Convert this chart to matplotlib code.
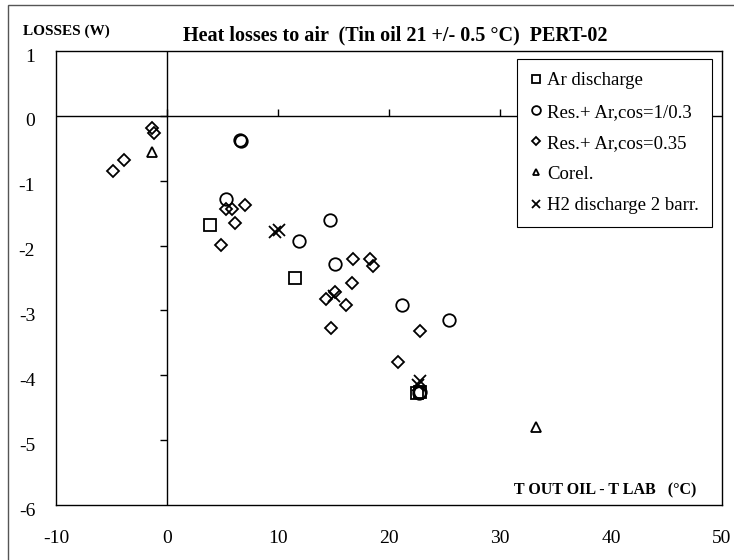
import matplotlib
matplotlib.use('Agg')
import matplotlib.pyplot as plt
from matplotlib.patches import Rectangle
from matplotlib.transforms import ScaledTranslation
import numpy as np

plt.rcParams['font.family'] = ['Liberation Serif', 'DejaVu Serif']
plt.rcParams['axes.unicode_minus'] = False

# Ar discharge
ar_x = [3.9, 11.5, 22.5, 22.8]
ar_y = [-1.68, -2.50, -4.28, -4.26]
# Res.+ Ar, cos=1/0.3
res1_x = [6.6, 6.7, 5.3, 14.7, 11.9, 15.1, 21.2, 25.4, 22.7, 22.8]
res1_y = [-0.37, -0.39, -1.28, -1.60, -1.93, -2.29, -2.92, -3.15, -4.27, -4.25]
# Res.+ Ar, cos=0.35
res2_x = [-1.35, -1.2, -3.9, -4.9, 5.3, 5.85, 7.05, 6.1, 4.9, 16.8, 18.3, 18.6,
          16.7, 15.1, 14.3, 16.1, 14.8, 22.8, 20.8]
res2_y = [-0.19, -0.27, -0.68, -0.85, -1.44, -1.43, -1.38, -1.65, -1.99, -2.21,
          -2.21, -2.31, -2.58, -2.71, -2.82, -2.92, -3.27, -3.31, -3.80]
# Corel.
cor_x = [-1.35, 33.2]
cor_y = [-0.56, -4.80]
# H2 discharge 2 barr.
h2_x = [9.7, 10.1, 15.0, 22.8, 22.6]
h2_y = [-1.79, -1.76, -2.78, -4.09, -4.15]

xticks = [-10, 0, 10, 20, 30, 40, 50]
yticks = [1, 0, -1, -2, -3, -4, -5, -6]

fig = plt.figure(figsize=(7.34, 5.6), dpi=100)
ax = fig.add_axes([56/734, 1-505/560, 666/734, 454/560])
ax.set_xlim(-10, 50)
ax.set_ylim(-6, 1)
ax.set_xticks(xticks)
ax.set_yticks(yticks)
ax.tick_params(length=0, labelsize=14)
ax.tick_params(axis='y', pad=15)
ax.tick_params(axis='x', pad=18)
for lbl in ax.get_yticklabels():
    lbl.set_transform(lbl.get_transform() + ScaledTranslation(0, -0.04, fig.dpi_scale_trans))
for s in ax.spines.values():
    s.set_linewidth(1.0)
    s.set_color('black')

# axes crossing at zero, Excel style
ax.axhline(0, color='black', lw=1.0, zorder=1)
ax.axvline(0, color='black', lw=1.0, zorder=1)
ax.plot(xticks[1:-1], np.zeros(len(xticks) - 2), ls='none', marker=2,
        ms=5, mew=1.0, color='black', zorder=1)
ax.plot(np.zeros(len(yticks) - 2), yticks[1:-1], ls='none', marker=0,
        ms=5, mew=1.0, color='black', zorder=1)

mk = dict(ls='none', mfc='none', mec='black', mew=1.3, zorder=3)
ax.plot(ar_x, ar_y, marker='s', ms=8, label='Ar discharge', **mk)
ax.plot(res1_x, res1_y, marker='o', ms=9, label='Res.+ Ar,cos=1/0.3', **mk)
ax.plot(res2_x, res2_y, marker='D', ms=6, label='Res.+ Ar,cos=0.35', **mk)
ax.plot(cor_x, cor_y, marker='^', ms=7, label='Corel.', **mk)
ax.plot(h2_x, h2_y, marker='x', ms=9, label='H2 discharge 2 barr.', **mk)

leg = ax.legend(loc='upper right', bbox_to_anchor=(0.985, 0.982), borderaxespad=0,
                fontsize=13.5, markerscale=0.7, handlelength=0.6, handletextpad=0.3,
                labelspacing=0.75, fancybox=False, edgecolor='black',
                framealpha=1, borderpad=0.7)
leg.get_frame().set_linewidth(0.8)

fig.text(0.538, 1-35/560, 'Heat losses to air  (Tin oil 21 +/- 0.5 \u00b0C)  PERT-02',
         ha='center', va='center', fontsize=14.5, fontweight='bold')
fig.text(23/734, 1-31/560, 'LOSSES (W)', ha='left', va='center',
         fontsize=11, fontweight='bold')
ax.text(0.961, 0.033, 'T OUT OIL - T LAB   (\u00b0C)', transform=ax.transAxes,
        ha='right', va='center', fontsize=11.5, fontweight='bold')

fig.add_artist(Rectangle((8/734, -0.1), 1.2, 1.1 - 5/560, transform=fig.transFigure,
                         fill=False, edgecolor='#555555', lw=1.0))

fig.savefig('out.png', dpi=100)
